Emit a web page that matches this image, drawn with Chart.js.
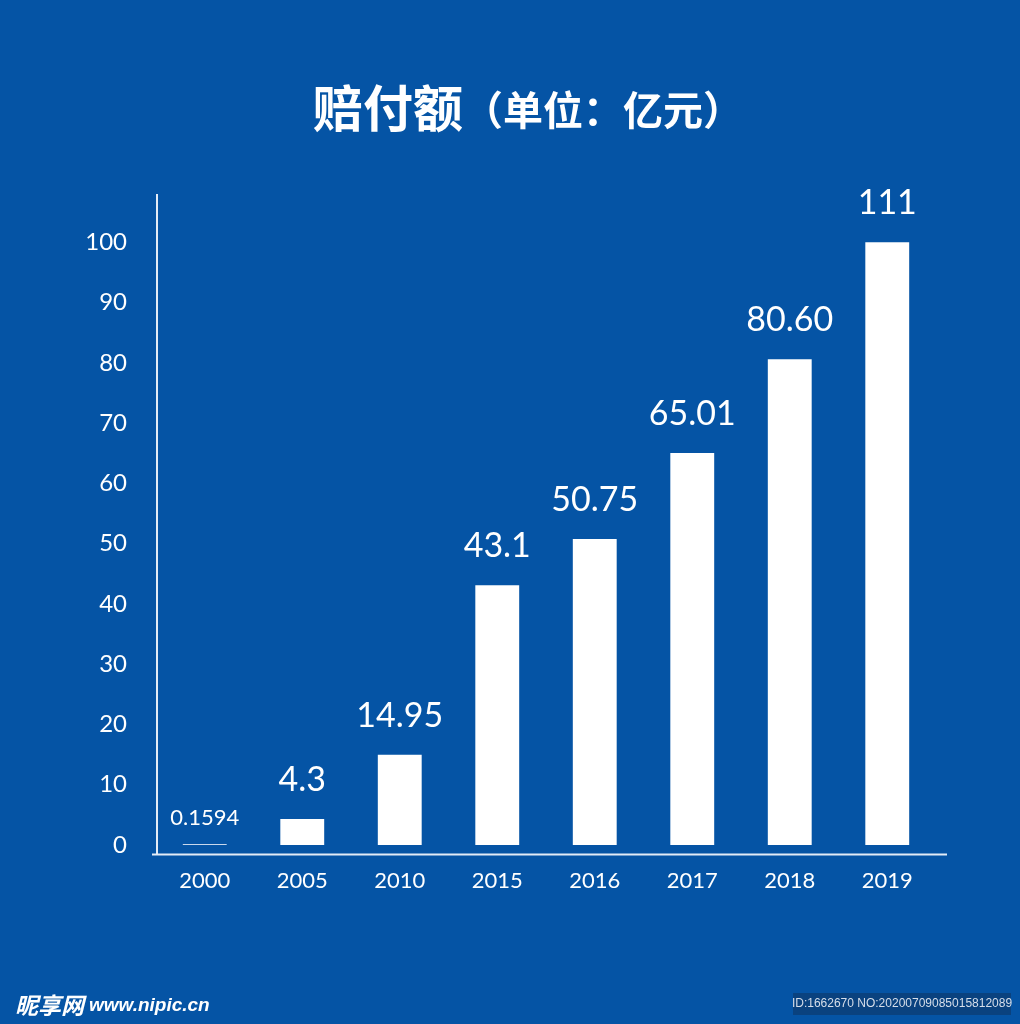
<!DOCTYPE html>
<html>
<head>
<meta charset="utf-8">
<script src="https://cdn.jsdelivr.net/npm/chart.js@4/dist/chart.umd.min.js"></script>
<style>
  html, body { margin: 0; padding: 0; background: #0554a5; }
  #wrap { width: 1020px; height: 1024px; position: relative; }
</style>
</head>
<body>
<div id="wrap"><canvas id="c" width="1020" height="1024"></canvas></div>
<script>
// ---- data ----
const years = ['2000', '2005', '2010', '2015', '2016', '2017', '2018', '2019'];
const payouts = [0.1594, 4.3, 14.95, 43.1, 50.75, 65.01, 80.60, 111];
const payoutLabels = ['0.1594', '4.3', '14.95', '43.1', '50.75', '65.01', '80.60', '111'];
const yTickValues = [0, 10, 20, 30, 40, 50, 60, 70, 80, 90, 100];
const titleMain = '赔付额';
const titleUnit = '（单位：亿元）';
const watermarkLogo = '昵享网';
const watermarkSite = 'www.nipic.cn';
const watermarkId = 'ID:1662670 NO:20200709085015812089';

// bars are drawn up to the top tick at most (as in the original picture)
const yCap = yTickValues[yTickValues.length - 1];
const plotted = payouts.map(v => Math.min(v, yCap));

const BG = '#0554a5';
const NUM_FONT = 'Lato, "Open Sans", sans-serif';

const bgPlugin = {
  id: 'bg',
  beforeDraw(chart) {
    const ctx = chart.ctx;
    ctx.save();
    ctx.fillStyle = BG;
    ctx.fillRect(0, 0, chart.width, chart.height);
    ctx.restore();
  }
};

const decorPlugin = {
  id: 'decor',
  afterDraw(chart) {
    const ctx = chart.ctx;
    const a = chart.chartArea;
    ctx.save();
    // title
    ctx.fillStyle = '#ffffff';
    ctx.textBaseline = 'middle';
    ctx.textAlign = 'left';
    const f1 = 'bold 50px "Noto Sans CJK SC", sans-serif';
    const f2 = 'bold 40px "Noto Sans CJK SC", sans-serif';
    ctx.font = f1; const w1 = ctx.measureText(titleMain).width;
    ctx.font = f2; const w2 = ctx.measureText(titleUnit).width;
    let x0 = 528 - (w1 + w2) / 2;
    ctx.font = f1; ctx.fillText(titleMain, x0, 108);
    ctx.font = f2; ctx.fillText(titleUnit, x0 + w1, 110);

    // axis lines
    ctx.strokeStyle = '#e4ecf7';
    ctx.lineWidth = 2;
    ctx.beginPath();
    ctx.moveTo(a.left + 1, a.top);
    ctx.lineTo(a.left + 1, a.bottom + 1);
    ctx.stroke();
    ctx.beginPath();
    ctx.moveTo(a.left - 4, a.bottom + 0.5);
    ctx.lineTo(a.right + 11, a.bottom + 0.5);
    ctx.stroke();

    // value labels
    const meta = chart.getDatasetMeta(0);
    ctx.fillStyle = '#ffffff';
    ctx.textAlign = 'center';
    ctx.textBaseline = 'middle';
    meta.data.forEach((bar, i) => {
      const small = payouts[i] < 1;
      ctx.font = (small ? '22px ' : '34px ') + NUM_FONT;
      ctx.fillText(payoutLabels[i], bar.x, bar.y - (small ? 26 : 39));
    });

    // watermark
    ctx.textAlign = 'left';
    ctx.font = 'italic bold 23px "Noto Sans CJK SC", sans-serif';
    ctx.fillText(watermarkLogo, 15, 1005);
    const lw = ctx.measureText(watermarkLogo).width;
    ctx.font = 'italic bold 19px "Liberation Sans", sans-serif';
    ctx.fillText(watermarkSite, 15 + lw + 5, 1006);
    ctx.fillStyle = '#0a427f';
    ctx.fillRect(793, 993, 218, 22);
    ctx.fillStyle = '#d6deea';
    ctx.font = '12px "Liberation Sans Narrow", "Liberation Sans", sans-serif';
    ctx.textAlign = 'center';
    ctx.fillText(watermarkId, 902, 1004);
    ctx.restore();
  }
};

new Chart(document.getElementById('c'), {
  type: 'bar',
  data: {
    labels: years,
    datasets: [{
      data: plotted,
      backgroundColor: (ctx) => payouts[ctx.dataIndex] < 1 ? '#c9d8ec' : '#ffffff',
      borderWidth: 0,
      categoryPercentage: 1,
      barPercentage: 0.45
    }]
  },
  options: {
    responsive: false,
    animation: false,
    devicePixelRatio: 1,
    layout: { padding: { left: 0, right: 84, top: 194, bottom: 0 } },
    plugins: { legend: { display: false }, tooltip: { enabled: false }, title: { display: false } },
    scales: {
      x: {
        grid: { display: false, drawTicks: false },
        border: { display: false },
        ticks: { color: '#ffffff', font: { family: NUM_FONT, size: 22 }, padding: 14, maxRotation: 0 },
        afterFit(s) { s.height = 170; }
      },
      y: {
        min: -1.5,
        max: 108,
        grid: { display: false, drawTicks: false },
        border: { display: false },
        afterBuildTicks(s) { s.ticks = yTickValues.map(v => ({ value: v })); },
        ticks: { color: '#ffffff', font: { family: NUM_FONT, size: 24 }, padding: 29, autoSkip: false },
        afterFit(s) { s.width = 156; }
      }
    }
  },
  plugins: [bgPlugin, decorPlugin]
});
</script>
</body>
</html>
